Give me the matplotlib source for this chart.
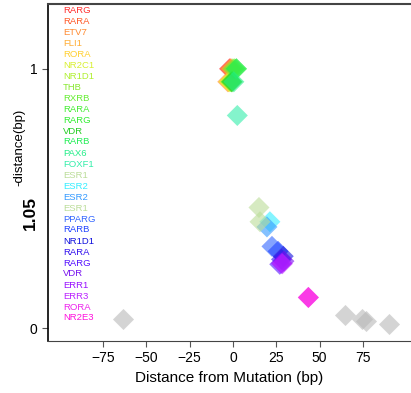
import numpy as np
import matplotlib.pyplot as plt

plt.rcParams['font.family'] = ['Liberation Sans', 'DejaVu Sans']

# motif names, in legend order
motifs = ["RARG", "RARA", "ETV7", "FLI1", "RORA", "NR2C1", "NR1D1", "THB",
          "RXRB", "RARA", "RARG", "VDR", "RARB", "PAX6", "FOXF1",
          "ESR1", "ESR2", "ESR2", "ESR1", "PPARG", "RARB", "NR1D1",
          "RARA", "RARG", "VDR", "ERR1", "ERR3", "RORA", "NR2E3"]
motif_colors = ["#ff3030", "#ff5a2a", "#ff8a30", "#ffad33", "#ffd030",
                "#d8f030", "#b0f030", "#88e830", "#66ee33", "#44ee33",
                "#33ee33", "#22cc22", "#22ee55", "#22ee88", "#33eeaa",
                "#bbdd99", "#33eeff", "#3399ff", "#bbdd99", "#3366ff",
                "#2244ff", "#1111dd", "#3311ee", "#5511ff", "#7711ee",
                "#9911ff", "#bb22ff", "#ee22ee", "#ff11dd"]
# distance from mutation (bp) and score
motif_dist = [-2, -1.5, -3, -1, -2.5, -2, -1, 0, 1, 2, -1, -0.5, 2, 0.5, 2.5,
              15, 21.3, 19.6, 15.6, 22.5, 26, 29, 28, 27, 29.4, 28, 28.5, 43.5, 43.5]
motif_score = [1.0, 1.0, 0.95, 1.0, 0.95, 0.95, 0.95, 1.0, 1.0, 1.0, 0.95, 0.95,
               1.0, 0.95, 0.82, 0.465, 0.41, 0.39, 0.41, 0.315, 0.296, 0.277,
               0.265, 0.246, 0.258, 0.25, 0.248, 0.118, 0.118]

# unlabelled (grey) motifs
other_dist = [-63.5, 64.6, 74.4, 76.7, 90]
other_score = [0.035, 0.05, 0.035, 0.027, 0.015]

fig = plt.figure(figsize=(4.11, 3.93), dpi=100)
ax = fig.add_axes([48 / 411, 1 - 341 / 393, 1 - 48 / 411, 337 / 393])

ax.scatter(other_dist, other_score, marker='D', s=115, color='#b8b8b8',
           alpha=0.6, linewidths=0)
ax.scatter(motif_dist, motif_score, marker='D', s=115, c=motif_colors,
           alpha=0.6, linewidths=0)

# legend-like list of motif names
for i, (name, col) in enumerate(zip(motifs, motif_colors)):
    ax.text(15 / 363, 1 - (6 + i * 11) / 337, name, color=col, fontsize=6.8,
            transform=ax.transAxes, va='center', ha='left')

ax.set_xlim(-106.7, 102.7)
ax.set_ylim(-0.05, 1.25)
ax.set_xticks([-75, -50, -25, 0, 25, 50, 75])
ax.set_xticklabels(["\u221275", "\u221250", "\u221225", "0", "25", "50", "75"])
ax.set_yticks([0, 1])
ax.tick_params(labelsize=10, length=4, color='#555555')
ax.set_xlabel("Distance from Mutation (bp)", fontsize=11)

# y label: 1.05 with a large superscript, drawn as two rotated texts
fig.text(30 / 411, 1 - 213 / 393, "1.05", rotation=90, fontsize=12.5,
         fontweight='bold', ha='center', va='center')
fig.text(19 / 411, 1 - 147 / 393, "-distance(bp)", rotation=90, fontsize=9.5,
         ha='center', va='center')

ax.spines['right'].set_visible(False)
ax.spines['top'].set_linewidth(1.5)
ax.spines['top'].set_color('#444444')
ax.spines['left'].set_linewidth(1.2)
ax.spines['bottom'].set_color('#444444')

fig.savefig("out.png", dpi=100)
